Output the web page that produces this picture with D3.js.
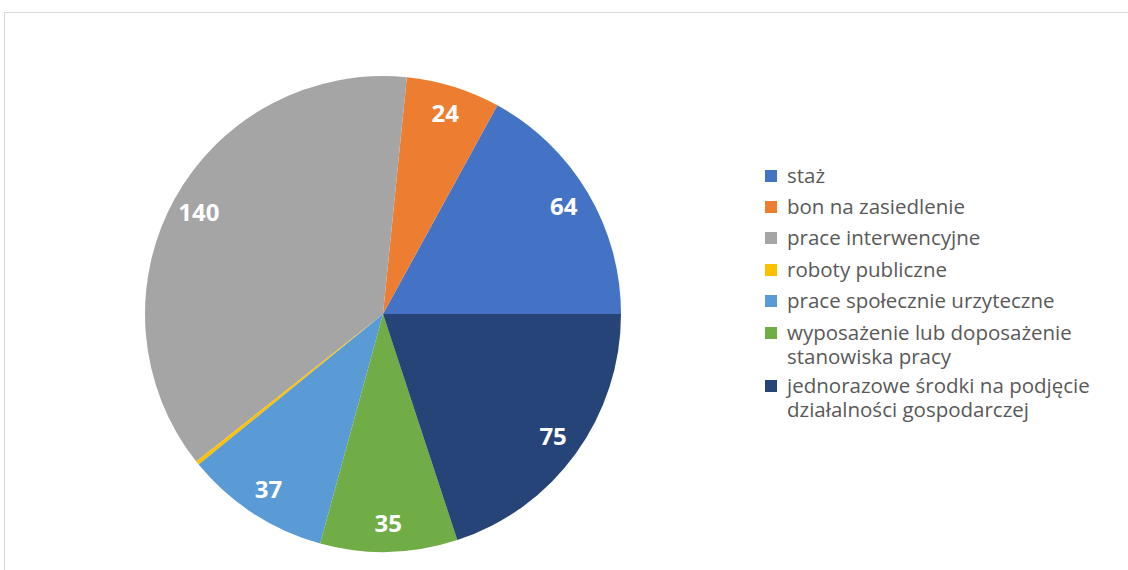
<!DOCTYPE html>
<html lang="pl">
<head>
    <meta charset="UTF-8">
    <title>Formy aktywizacji</title>
    <script src="https://d3js.org/d3.v7.min.js"></script>
    <style>
        body, html { margin: 0; padding: 0; background: #fff; }
        svg { display: block; }
    </style>
</head>
<body>
    <div id="chart"></div>
    <script>
        // Dane
        const categories = [
            ["staż"],
            ["bon na zasiedlenie"],
            ["prace interwencyjne"],
            ["roboty publiczne"],
            ["prace społecznie urzyteczne"],
            ["wyposażenie lub doposażenie", "stanowiska pracy"],
            ["jednorazowe środki na podjęcie", "działalności gospodarczej"]
        ];
        const values = [64, 24, 140, 1, 37, 35, 75];
        const labels = ["64", "24", "140", "", "37", "35", "75"];
        const colors = ["#4472C4", "#ED7D31", "#A5A5A5", "#FFC000", "#5B9BD5", "#70AD47", "#264478"];

        const width = 1128, height = 570;
        const cx = 383, cy = 314, radius = 238, labelRadius = 210;

        const svg = d3.select("#chart").append("svg")
            .attr("width", width)
            .attr("height", height);

        // ramka wykresu
        svg.append("rect")
            .attr("x", 4.5).attr("y", 12.5)
            .attr("width", 1140).attr("height", 620)
            .attr("fill", "none")
            .attr("stroke", "#d9d9d9")
            .attr("stroke-width", 1);

        // pierwszy wycinek od godz. 3, przeciwnie do ruchu wskazówek
        const pie = d3.pie()
            .sort(null)
            .startAngle(Math.PI / 2)
            .endAngle(Math.PI / 2 - 2 * Math.PI);

        const arcs = pie(values);
        const arc = d3.arc().innerRadius(0).outerRadius(radius);

        const g = svg.append("g").attr("transform", `translate(${cx},${cy})`);

        g.selectAll("path.slice")
            .data(arcs)
            .enter()
            .append("path")
            .attr("class", "slice")
            .attr("d", arc)
            .attr("fill", (d, i) => colors[i]);

        g.selectAll("text.val")
            .data(arcs)
            .enter()
            .append("text")
            .attr("class", "val")
            .attr("transform", d => {
                // punkt na okręgu o promieniu labelRadius
                const a = (d.startAngle + d.endAngle) / 2;
                return `translate(${Math.sin(a) * labelRadius},${-Math.cos(a) * labelRadius})`;
            })
            .attr("text-anchor", "middle")
            .attr("dy", "0.34em")
            .attr("fill", "#fff")
            .style("font-family", "'Open Sans', sans-serif")
            .style("font-weight", "bold")
            .style("font-size", "24px")
            .text((d, i) => labels[i]);

        // Legenda
        const legendX = 765, textX = 787;
        const baselines = [183, 214, 245, 277, 308, 340, 393];
        const lineGap = 24;

        const legend = svg.append("g");
        categories.forEach((lines, i) => {
            const y = baselines[i];
            legend.append("rect")
                .attr("x", legendX).attr("y", y - 13)
                .attr("width", 12).attr("height", 12)
                .attr("fill", colors[i]);
            const t = legend.append("text")
                .attr("x", textX).attr("y", y)
                .attr("fill", "#595959")
                .style("font-family", "'Open Sans', sans-serif")
                .style("font-size", "20.5px");
            lines.forEach((line, j) => {
                t.append("tspan")
                    .attr("x", textX)
                    .attr("dy", j === 0 ? 0 : lineGap)
                    .text(line);
            });
        });
    </script>
</body>
</html>
